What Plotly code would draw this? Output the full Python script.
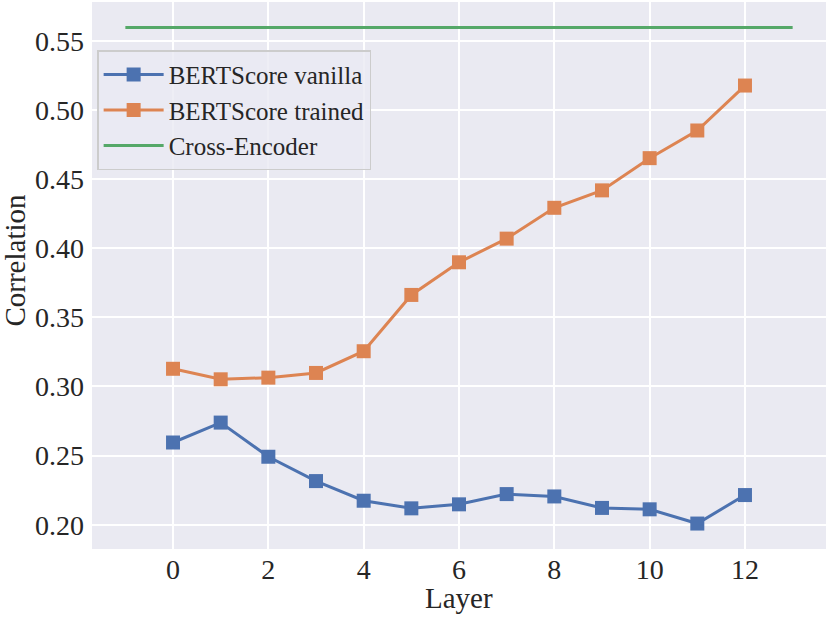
import plotly.graph_objects as go

layers = list(range(13))
vanilla = [0.2595, 0.2739, 0.2492, 0.2316, 0.2174, 0.2119, 0.2148,
           0.2222, 0.2205, 0.2122, 0.2112, 0.2009, 0.2215]
trained = [0.3128, 0.3052, 0.3064, 0.3098, 0.3255, 0.3662, 0.3898,
           0.4069, 0.4292, 0.4418, 0.4651, 0.4851, 0.5176]
cross_x = [-1, 13]
cross_y = [0.5595, 0.5595]

x_ticks = [0, 2, 4, 6, 8, 10, 12]
y_ticks = [0.20, 0.25, 0.30, 0.35, 0.40, 0.45, 0.50, 0.55]
y_labels = ['0.20', '0.25', '0.30', '0.35', '0.40', '0.45', '0.50', '0.55']

font_family = 'Liberation Serif, Times New Roman, serif'

fig = go.Figure()

fig.add_trace(go.Scatter(
    x=layers, y=vanilla, mode='lines+markers', name='BERTScore vanilla',
    line=dict(color='#4C72B0', width=3),
    marker=dict(symbol='square', size=14, color='#4C72B0')
))
fig.add_trace(go.Scatter(
    x=layers, y=trained, mode='lines+markers', name='BERTScore trained',
    line=dict(color='#DD8452', width=3),
    marker=dict(symbol='square', size=14, color='#DD8452')
))
fig.add_trace(go.Scatter(
    x=cross_x, y=cross_y, mode='lines', name='Cross-Encoder',
    line=dict(color='#55A868', width=3)
))

# axis titles as annotations so they sit exactly where the reference has them
fig.add_annotation(text='Layer', xref='paper', yref='paper', x=0.5, y=-0.09,
                   xanchor='center', yanchor='middle', showarrow=False,
                   font=dict(size=29))
fig.add_annotation(text='Correlation', xref='paper', yref='paper', x=-0.105, y=0.529,
                   xanchor='center', yanchor='middle', showarrow=False,
                   textangle=-90, font=dict(size=29))

fig.update_layout(
    width=829,
    height=618,
    paper_bgcolor='white',
    plot_bgcolor='#EAEAF2',
    font=dict(family=font_family, color='#262626', size=28),
    margin=dict(l=92, r=3, t=2, b=69),
    showlegend=True,
    legend=dict(
        x=0.007, y=0.912, xanchor='left', yanchor='top',
        bgcolor='rgba(234,234,242,0.8)',
        bordercolor='#CCCCCC', borderwidth=1.5,
        font=dict(size=25, family=font_family, color='#262626'),
        itemwidth=60,
        entrywidth=290, entrywidthmode='pixels',
        tracegroupgap=0,
    ),
    xaxis=dict(
        range=[-1.7, 13.7], automargin=False,
        tickmode='array', tickvals=x_ticks,
        showgrid=True, gridcolor='white', gridwidth=1.6,
        zeroline=False, showline=False, ticks='',
        tickfont=dict(size=28), ticklabelstandoff=1,
    ),
    yaxis=dict(
        range=[0.1825, 0.578], automargin=False,
        tickmode='array', tickvals=y_ticks, ticktext=y_labels,
        showgrid=True, gridcolor='white', gridwidth=1.6,
        zeroline=False, showline=False, ticks='',
        tickfont=dict(size=28), ticklabelstandoff=7,
    ),
)

# drop the browser's default body margin so the figure starts at the top-left corner
fig.write_html('out.html', config={'displayModeBar': False},
               post_script="document.body.style.margin='0';")
